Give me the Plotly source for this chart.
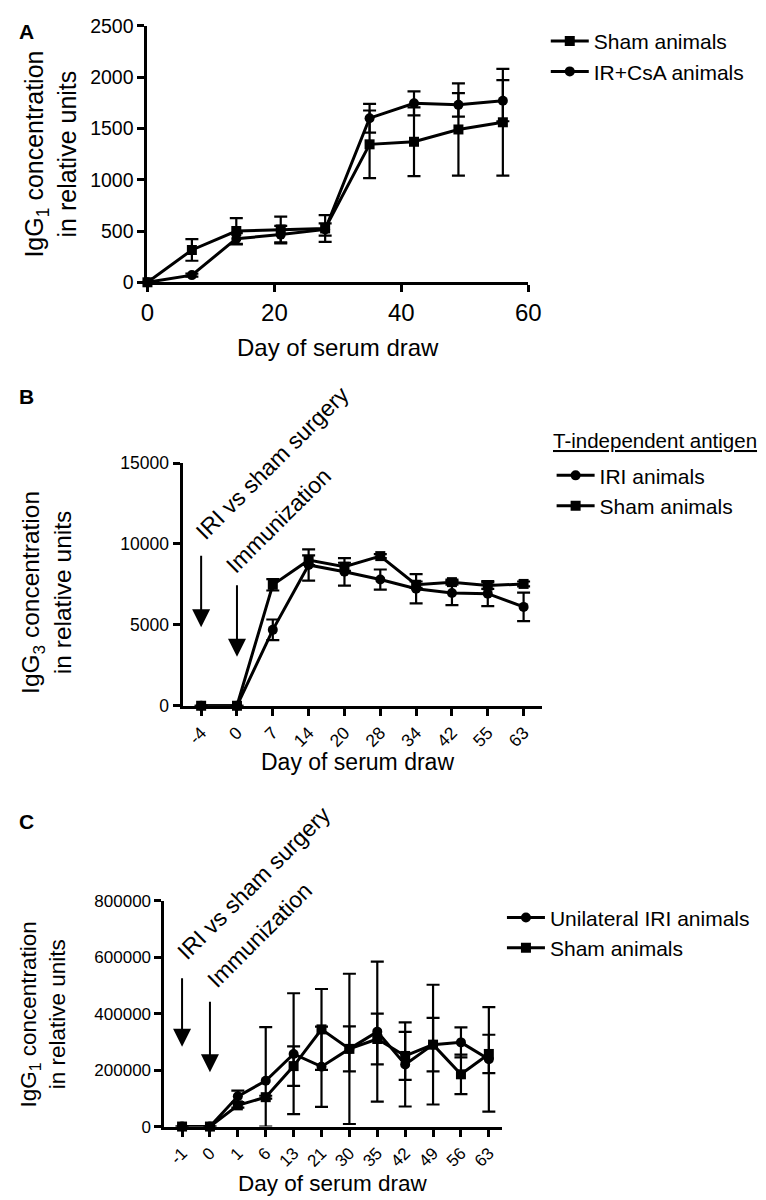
import plotly.graph_objects as go

W, H = 766, 1200
FONT = "Liberation Sans, Arial, Helvetica, sans-serif"

# ---------------- Panel A ----------------
days_a = [0, 7, 14, 21, 28, 35, 42, 49, 56]
sham_a = [0, 315, 500, 515, 525, 1345, 1370, 1490, 1560]
sham_a_err = [0, 105, 125, 125, 130, 330, 335, 450, 520]
csa_a = [0, 70, 425, 465, 515, 1600, 1745, 1730, 1770]
csa_a_err = [0, 15, 55, 85, 60, 140, 117, 115, 200]
ticks_a_x = [0, 20, 40, 60]
ticks_a_y = [0, 500, 1000, 1500, 2000, 2500]

# ---------------- Panel B ----------------
days_b = ["-4", "0", "7", "14", "20", "28", "34", "42", "55", "63"]
iri_b = [0, 0, 4690, 8700, 8280, 7800, 7230, 6970, 6930, 6110]
iri_b_err = [0, 0, 640, 960, 850, 620, 900, 750, 770, 880]
sham_b = [0, 0, 7475, 9000, 8590, 9250, 7480, 7640, 7430, 7530]
sham_b_err = [0, 0, 350, 300, 250, 120, 200, 150, 200, 150]
ticks_b_y = [0, 5000, 10000, 15000]

# ---------------- Panel C ----------------
days_c = ["-1", "0", "1", "6", "13", "21", "30", "35", "42", "49", "56", "63"]
uni_c = [0, 0, 107000, 162000, 257000, 212000, 275000, 336000, 220000, 290000, 298000, 238000]
uni_c_err_plus = [0, 0, 20000, 190000, 215000, 142000, 266000, 248000, 149000, 212000, 53000, 185000]
uni_c_err_minus = [0, 0, 20000, 162000, 213000, 142000, 266000, 248000, 149000, 212000, 53000, 185000]
sham_c = [0, 0, 75000, 104000, 214000, 344000, 275000, 310000, 250000, 290000, 185000, 257000]
sham_c_err = [0, 0, 8000, 5000, 70000, 143000, 80000, 90000, 85000, 95000, 70000, 68000]
ticks_c_y = [0, 200000, 400000, 600000, 800000]


def fx(px):
    return px / W


def fy(py):
    return 1 - py / H


def series(x, y, err, sym, name, xa, ya, legend, errminus=None):
    ed = dict(type="data", array=err, color="black", thickness=2.2, width=6.5, visible=True)
    if errminus is not None:
        ed["arrayminus"] = errminus
        ed["symmetric"] = False
    return go.Scatter(
        x=x, y=y, name=name, mode="lines+markers",
        line=dict(color="black", width=3),
        marker=dict(symbol=sym, size=10, color="black"),
        error_y=ed, xaxis=xa, yaxis=ya, legend=legend, cliponaxis=False,
    )


fig = go.Figure()
fig.add_trace(series(days_a, sham_a, sham_a_err, "square", "Sham animals", "x", "y", "legend"))
fig.add_trace(series(days_a, csa_a, csa_a_err, "circle", "IR+CsA animals", "x", "y", "legend"))
fig.add_trace(series(days_b, iri_b, iri_b_err, "circle", "IRI animals", "x2", "y2", "legend2"))
fig.add_trace(series(days_b, sham_b, sham_b_err, "square", "Sham animals", "x2", "y2", "legend2"))
fig.add_trace(series(days_c, uni_c, uni_c_err_plus, "circle", "Unilateral IRI animals", "x3", "y3", "legend3",
                     errminus=uni_c_err_minus))
fig.add_trace(series(days_c, sham_c, sham_c_err, "square", "Sham animals", "x3", "y3", "legend3"))

axis_common = dict(showline=True, linewidth=3, linecolor="black", ticks="outside", ticklen=7,
                   tickwidth=3, tickcolor="black", showgrid=False, zeroline=False)


def tf(size):
    return dict(family=FONT, size=size, color="black")


leg_common = dict(xanchor="left", yanchor="top", bgcolor="rgba(0,0,0,0)", itemwidth=38)

fig.update_layout(
    width=W, height=H, margin=dict(l=0, r=0, t=0, b=0),
    paper_bgcolor="white", plot_bgcolor="white",
    font=dict(family=FONT, color="black"),
    xaxis=dict(axis_common, domain=[fx(136), fx(527)], range=[0, 60], tickvals=ticks_a_x,
               anchor="y", tickfont=tf(24)),
    yaxis=dict(axis_common, domain=[fy(269), fy(8)], range=[0, 2500], tickvals=ticks_a_y,
               tickformat="d", anchor="x", tickfont=tf(19.5)),
    xaxis2=dict(axis_common, domain=[fx(172), fx(541)], type="category", range=[-0.52, 9.51],
                tickangle=-45, anchor="y2", tickfont=tf(17.5)),
    yaxis2=dict(axis_common, domain=[fy(700), fy(453)], range=[0, 15000], tickvals=ticks_b_y,
                tickformat="d", anchor="x2", tickfont=tf(17.5)),
    xaxis3=dict(axis_common, domain=[fx(153.5), fx(500)], type="category", range=[-0.63, 11.47],
                tickangle=-45, anchor="y3", tickfont=tf(17)),
    yaxis3=dict(axis_common, domain=[fy(1128.3), fy(898.3)], range=[0, 800000], tickvals=ticks_c_y,
                tickformat="d", anchor="x3", tickfont=tf(17)),
    legend=dict(leg_common, x=fx(545), y=fy(3), font=tf(21)),
    legend2=dict(leg_common, x=fx(551), y=fy(445), font=tf(21)),
    legend3=dict(leg_common, x=fx(500), y=fy(895), font=tf(21)),
)

ann = []


def text(t, x, y, size, angle=0, bold=False, xanchor="center"):
    ann.append(dict(text=("<b>%s</b>" % t) if bold else t, x=fx(x), y=fy(y), xref="paper", yref="paper",
                    showarrow=False, textangle=angle, xanchor=xanchor, yanchor="middle",
                    font=dict(family=FONT, size=size, color="black")))


# panel letters
text("A", 12, 14, 21, bold=True)
text("B", 12, 385, 21, bold=True)
text("C", 12, 818, 21, bold=True)

# axis titles
text("IgG<sub>1</sub> concentration<br>in relative units", 37, 139, 25, angle=-90)
text("Day of serum draw", 332, 335, 24)
text("IgG<sub>3</sub> concentration<br>in relative units", 33, 585, 24.5, angle=-90)
text("Day of serum draw", 352, 757, 23)
text("IgG<sub>1</sub> concentration<br>in relative units", 29, 1014, 22.5, angle=-90)
text("Day of serum draw", 327, 1186, 22.5)

# event labels
text("IRI vs sham surgery", 264, 453, 23, angle=-45)
text("Immunization", 271, 511, 23, angle=-45)
text("IRI vs sham surgery", 245, 880, 23, angle=-45)
text("Immunization", 251, 933, 23, angle=-45)

# legend B title
text("<u>T-independent antigen</u>", 550, 430, 20.5, xanchor="left")


def arrow(xref, xi, head_py, length):
    ann.append(dict(text="", x=xi, y=fy(head_py), xref=xref, yref="paper", showarrow=True,
                    ax=0, ay=-length, axref="pixel", ayref="pixel",
                    arrowhead=2, arrowsize=1.8, arrowwidth=2, arrowcolor="black"))


arrow("x2", days_b.index("-4"), 620, 73)
arrow("x2", days_b.index("0"), 650, 73)
arrow("x3", days_c.index("-1"), 1047, 70)
arrow("x3", days_c.index("0"), 1073, 72)

fig.update_layout(annotations=ann)
fig.write_html("out.html")
